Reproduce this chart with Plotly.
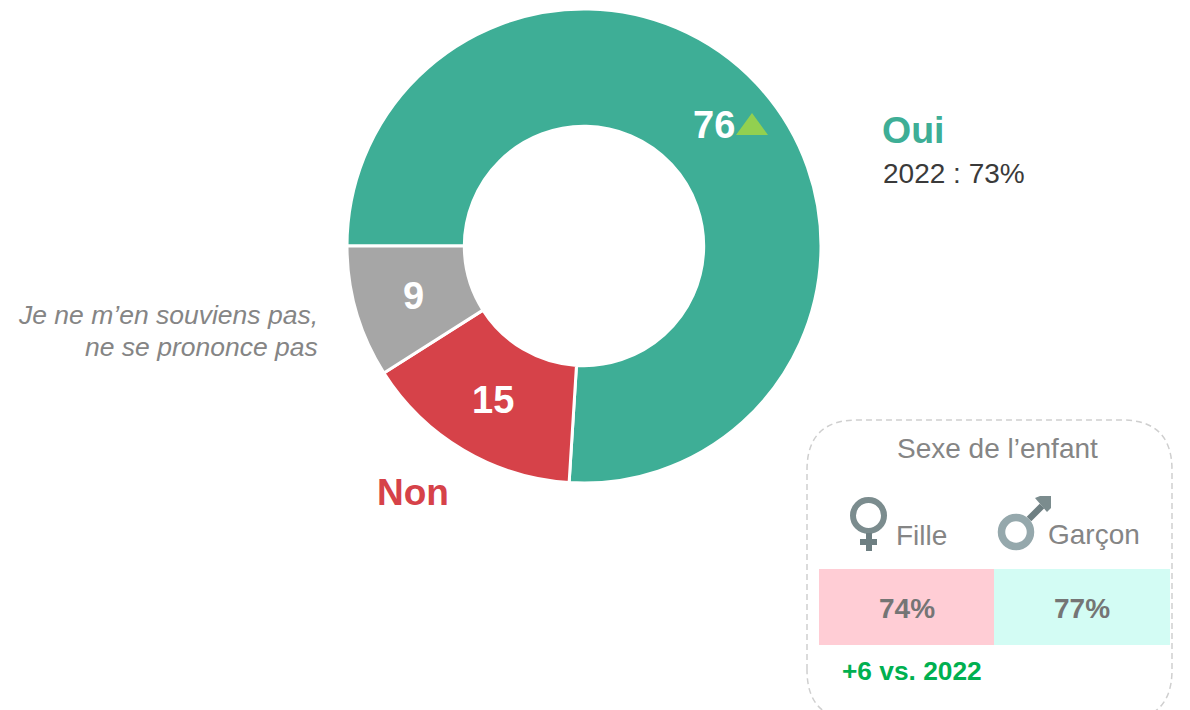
import plotly.graph_objects as go

W, H = 1190, 710

categories = ["Oui", "Non", "Je ne m’en souviens pas, ne se prononce pas"]
values = [76, 15, 9]
colors = ["#3EAE96", "#D64249", "#A6A6A6"]
gender_labels = ["Fille", "Garçon"]
gender_values = [74, 77]
gender_colors = ["#FFCDD5", "#D3FCF4"]
previous_year_text = "2022 : 73%"
gender_delta_text = "+6 vs. 2022"
panel_title = "Sexe de l’enfant"

FONT = "Liberation Sans, Arial, sans-serif"


def px(x):
    return x / W


def py(y):
    return 1 - y / H


fig = go.Figure(
    go.Pie(
        labels=categories,
        values=values,
        hole=0.505,
        rotation=270,
        sort=False,
        direction="clockwise",
        marker=dict(colors=colors, line=dict(color="white", width=3)),
        textinfo="none",
        showlegend=False,
        domain=dict(x=[px(347), px(821)], y=[py(483), py(9)]),
    )
)


def text(x, y, s, size, color, bold=False, italic=False, anchor="center"):
    if bold:
        s = f"<b>{s}</b>"
    if italic:
        s = f"<i>{s}</i>"
    fig.add_annotation(
        x=px(x), y=py(y), xref="paper", yref="paper", text=s, showarrow=False,
        xanchor=anchor, yanchor="middle", align=anchor,
        font=dict(family=FONT, size=size, color=color),
    )


def shape_rect(x0, y0, x1, y1, color):
    fig.add_shape(type="rect", xref="paper", yref="paper", x0=px(x0), x1=px(x1),
                  y0=py(y0), y1=py(y1), fillcolor=color, line_width=0, layer="above")


def circle(cx, cy, r, width, color):
    fig.add_shape(type="circle", xref="paper", yref="paper", x0=px(cx - r), x1=px(cx + r),
                  y0=py(cy - r), y1=py(cy + r), fillcolor="rgba(0,0,0,0)",
                  line=dict(color=color, width=width), layer="above")


def poly(points, fill=None, line=None, width=0, dash=None, close=True):
    d = "M " + " L ".join(f"{px(x):.5f},{py(y):.5f}" for x, y in points) + (" Z" if close else "")
    fig.add_shape(type="path", xref="paper", yref="paper", path=d,
                  fillcolor=fill or "rgba(0,0,0,0)",
                  line=dict(color=line or "rgba(0,0,0,0)", width=width, dash=dash), layer="above")


# Slice labels
text(714, 125, str(values[0]), 38, "white", bold=True)
text(493, 400, str(values[1]), 38, "white", bold=True)
text(413, 296, str(values[2]), 38, "white", bold=True)

# Trend triangle
poly([(736, 135), (768, 135), (752, 113)], fill="#92D050")

# Category labels
text(913, 130, categories[0], 37.5, colors[0], bold=True)
text(954, 173, previous_year_text, 28, "#3A3A3A")
text(413, 492, categories[1], 37, colors[1], bold=True)
text(320, 315, "Je ne m’en souviens pas,", 26.5, "#858585", italic=True, anchor="right")
text(320, 347, "ne se prononce pas", 26.5, "#858585", italic=True, anchor="right")

# Panel outline: rounded, cut by the bottom edge of the page
L, T, R, B, r = 807, 420, 1172, 720, 50
path = (f"M {px(L)},{py(B - r)} L {px(L)},{py(T + r)} "
        f"Q {px(L)},{py(T)} {px(L + r)},{py(T)} L {px(R - r)},{py(T)} "
        f"Q {px(R)},{py(T)} {px(R)},{py(T + r)} L {px(R)},{py(B - r)} "
        f"Q {px(R)},{py(B)} {px(R - r)},{py(B)} L {px(L + r)},{py(B)} "
        f"Q {px(L)},{py(B)} {px(L)},{py(B - r)} Z")
fig.add_shape(type="path", xref="paper", yref="paper", path=path,
              line=dict(color="#CFCFCF", width=1.5, dash="6px,4px"),
              fillcolor="rgba(0,0,0,0)", layer="above")

text(997, 448, panel_title, 28, "#858585")

# Table cells
shape_rect(819, 569, 994, 645, gender_colors[0])
shape_rect(994, 569, 1170, 645, gender_colors[1])
text(907, 608, f"{gender_values[0]}%", 28, "#757575", bold=True)
text(1082, 608, f"{gender_values[1]}%", 28, "#757575", bold=True)
text(921, 535, gender_labels[0], 28, "#858585")
text(1094, 534, gender_labels[1], 28, "#858585")
text(912, 671, gender_delta_text, 26.3, "#00B050", bold=True)

# Female icon
circle(868.5, 515.5, 15.5, 6, "#7B8C8E")
shape_rect(866, 533, 872, 551, "#6E7F82")
shape_rect(860, 539, 877, 545, "#6E7F82")

# Male icon
circle(1016, 532, 14.5, 7.5, "#95A8AC")
poly([(1029, 519), (1042, 506)], line="#6E7F82", width=6.5, close=False)
poly([(1035, 498), (1040, 496), (1051, 496), (1051, 508), (1047, 512)], fill="#7B8C8E")

fig.update_layout(
    width=W, height=H,
    margin=dict(l=0, r=0, t=0, b=0),
    paper_bgcolor="white", plot_bgcolor="white",
    font=dict(family=FONT),
)

fig.write_html("out.html", config=dict(displayModeBar=False),
               post_script="document.body.style.margin='0';")
